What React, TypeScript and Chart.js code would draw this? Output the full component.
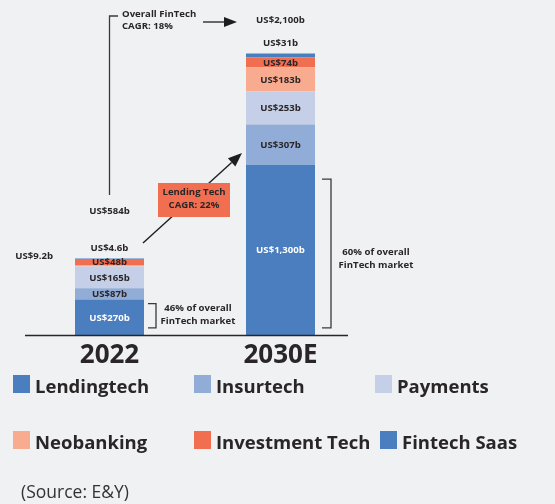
import React, { useEffect, useRef } from "react";
import { Chart, registerables } from "chart.js";

Chart.register(...registerables);

// ---- data ----
const categories = ["2022", "2030E"];
const seriesNames = ["Lendingtech", "Insurtech", "Payments", "Neobanking", "Investment Tech", "Fintech Saas"];
const lendingtech = [270, 1300];
const insurtech = [87, 307];
const payments = [165, 253];
const neobanking = [9.2, 183];
const investmentTech = [48, 74];
const fintechSaas = [4.6, 31];
const segmentLabels = [
  ["US$270b", "US$1,300b"],
  ["US$87b", "US$307b"],
  ["US$165b", "US$253b"],
  ["US$9.2b", "US$183b"],
  ["US$48b", "US$74b"],
  ["US$4.6b", "US$31b"],
];
const totalLabels = ["US$584b", "US$2,100b"];
const shareLabels = [
  ["46% of overall", "FinTech market"],
  ["60% of overall", "FinTech market"],
];
const overallCagr = ["Overall FinTech", "CAGR: 18%"];
const lendingCagr = ["Lending Tech", "CAGR: 22%"];
const sourceText = "(Source: E&Y)";

// ---- style ----
const seriesColors = ["#4a7ebf", "#91acd6", "#c5d0e8", "#f9ab8f", "#f26e50", "#4a7ebf"];
const labelPlacement = [
  ["in", "in"],
  ["in", "in"],
  ["in", "in"],
  ["left", "in"],
  ["in", "in"],
  ["above", "above"],
];
const BG = "#eff1f3";
const INK = "#2a2627";
const FONT = '"Open Sans", "DejaVu Sans", sans-serif';
const SMALL = `700 9.6px ${FONT}`;

function arrow(ctx: CanvasRenderingContext2D, x1: number, y1: number, x2: number, y2: number, len: number, half: number) {
  const a = Math.atan2(y2 - y1, x2 - x1);
  const bx = x2 - Math.cos(a) * len;
  const by = y2 - Math.sin(a) * len;
  ctx.beginPath();
  ctx.moveTo(x1, y1);
  ctx.lineTo(bx, by);
  ctx.stroke();
  ctx.beginPath();
  ctx.moveTo(x2, y2);
  ctx.lineTo(bx + Math.sin(a) * half, by - Math.cos(a) * half);
  ctx.lineTo(bx - Math.sin(a) * half, by + Math.cos(a) * half);
  ctx.closePath();
  ctx.fill();
}

const overlay = {
  id: "overlay",
  beforeDraw(chart: any) {
    const ctx = chart.ctx;
    ctx.save();
    ctx.fillStyle = BG;
    ctx.fillRect(0, 0, chart.width, chart.height);
    ctx.restore();
  },
  afterDatasetsDraw(chart: any) {
    const ctx: CanvasRenderingContext2D = chart.ctx;
    const xs = chart.scales.x;
    const ys = chart.scales.y;
    const X0 = xs.getPixelForValue(0);
    const X1 = xs.getPixelForValue(1);
    const base = ys.getPixelForValue(0);
    const Y = (v: number) => ys.getPixelForValue(v);
    ctx.save();
    ctx.textAlign = "center";
    ctx.textBaseline = "middle";

    // segment labels
    ctx.font = SMALL;
    chart.data.datasets.forEach((ds: any, i: number) => {
      const meta = chart.getDatasetMeta(i);
      meta.data.forEach((el: any, j: number) => {
        const p = el.getProps(["x", "y", "base", "width"], true);
        const place = labelPlacement[i][j];
        const txt = segmentLabels[i][j];
        ctx.fillStyle = i === 0 ? "#ffffff" : INK;
        if (place === "in") {
          ctx.textAlign = "center";
          ctx.fillText(txt, p.x, (p.y + p.base) / 2 + 0.5);
        } else if (place === "above") {
          ctx.textAlign = "center";
          ctx.fillStyle = INK;
          ctx.fillText(txt, p.x, p.y - 10);
        } else {
          ctx.textAlign = "right";
          ctx.fillStyle = INK;
          ctx.fillText(txt, p.x - p.width / 2 - 22, p.y - 9);
        }
      });
    });

    // totals
    ctx.textAlign = "center";
    ctx.fillStyle = INK;
    ctx.fillText(totalLabels[0], X0, 211);
    ctx.fillText(totalLabels[1], X1, 20);

    // baseline
    ctx.strokeStyle = INK;
    ctx.lineWidth = 1.5;
    ctx.beginPath();
    ctx.moveTo(25, base + 0.5);
    ctx.lineTo(348, base + 0.5);
    ctx.stroke();

    // category labels
    ctx.font = `700 26px ${FONT}`;
    ctx.fillStyle = INK;
    categories.forEach((c, j) => {
      ctx.fillText(c, xs.getPixelForValue(j), base + 21);
    });

    // share brackets
    const bw = chart.getDatasetMeta(0).data[0].width;
    const br = [
      { x: X0 + bw / 2 + 4, w: 8, top: Y(240), bot: Y(55), tx: 198, ty: 308 },
      { x: X1 + bw / 2 + 7, w: 9, top: Y(1190), bot: Y(55), tx: 376, ty: 252 },
    ];
    ctx.lineWidth = 1.3;
    ctx.strokeStyle = "#3a3a3a";
    br.forEach((b, j) => {
      ctx.beginPath();
      ctx.moveTo(b.x, b.top);
      ctx.lineTo(b.x + b.w, b.top);
      ctx.lineTo(b.x + b.w, b.bot);
      ctx.lineTo(b.x, b.bot);
      ctx.stroke();
      ctx.font = SMALL;
      ctx.fillStyle = INK;
      ctx.textAlign = "center";
      ctx.fillText(shareLabels[j][0], b.tx, b.ty);
      ctx.fillText(shareLabels[j][1], b.tx, b.ty + 13);
    });

    // overall CAGR bracket + arrow
    ctx.strokeStyle = "#3a3a3a";
    ctx.lineWidth = 1.3;
    ctx.beginPath();
    ctx.moveTo(118, 16);
    ctx.lineTo(X0, 16);
    ctx.lineTo(X0, 195);
    ctx.stroke();
    ctx.textAlign = "left";
    ctx.fillStyle = INK;
    ctx.font = SMALL;
    ctx.fillText(overallCagr[0], 122, 14);
    ctx.fillText(overallCagr[1], 122, 26);
    ctx.fillStyle = "#1e1e1e";
    ctx.strokeStyle = "#1e1e1e";
    arrow(ctx, 203, 22, 237, 22, 13, 5);

    // lending CAGR arrow + box
    ctx.lineWidth = 1.4;
    arrow(ctx, 143, 243, 242, 153, 14, 5.5);
    ctx.fillStyle = "#f26e50";
    ctx.fillRect(158, 183, 72, 34);
    ctx.fillStyle = INK;
    ctx.textAlign = "center";
    ctx.fillText(lendingCagr[0], 194, 192);
    ctx.fillText(lendingCagr[1], 194, 205);

    ctx.restore();
  },
  afterDraw(chart: any) {
    const ctx: CanvasRenderingContext2D = chart.ctx;
    ctx.save();
    // legend
    const sqX = [13, 194, 375, 13, 194, 380];
    const sqY = [375, 375, 375, 431, 431, 431];
    ctx.font = `700 18.5px ${FONT}`;
    ctx.textAlign = "left";
    ctx.textBaseline = "alphabetic";
    chart.data.datasets.forEach((ds: any, i: number) => {
      ctx.fillStyle = ds.backgroundColor;
      ctx.fillRect(sqX[i], sqY[i], 17, 18);
      ctx.fillStyle = INK;
      ctx.fillText(ds.label, sqX[i] + 22, sqY[i] + 18);
    });
    // source
    ctx.font = `400 17.5px ${FONT}`;
    ctx.fillStyle = "#333333";
    ctx.textBaseline = "middle";
    ctx.fillText(sourceText, 21, 493);
    ctx.restore();
  },
};

export default function App() {
  const ref = useRef<HTMLCanvasElement | null>(null);
  useEffect(() => {
    document.body.style.margin = "0";
    document.body.style.background = BG;
    const seriesValues = [lendingtech, insurtech, payments, neobanking, investmentTech, fintechSaas];
    const chart = new Chart(ref.current as HTMLCanvasElement, {
      type: "bar",
      data: {
        labels: categories,
        datasets: seriesValues.map((vals, i) => ({
          label: seriesNames[i],
          data: vals,
          backgroundColor: seriesColors[i],
          borderWidth: 0,
          categoryPercentage: 1,
          barPercentage: 0.4035,
        })),
      },
      options: {
        responsive: false,
        animation: false,
        devicePixelRatio: 1,
        layout: { padding: { left: 24, right: 189, top: 25, bottom: 169 } },
        scales: {
          x: { display: false, stacked: true },
          y: { display: false, stacked: true, min: 0, max: 2366 },
        },
        plugins: { legend: { display: false }, tooltip: { enabled: false } },
      },
      plugins: [overlay],
    });
    return () => chart.destroy();
  }, []);
  return (
    <div style={{ position: "fixed", left: 0, top: 0, width: 555, height: 504, background: BG }}>
      <canvas ref={ref} width={555} height={504} style={{ display: "block" }} />
    </div>
  );
}
